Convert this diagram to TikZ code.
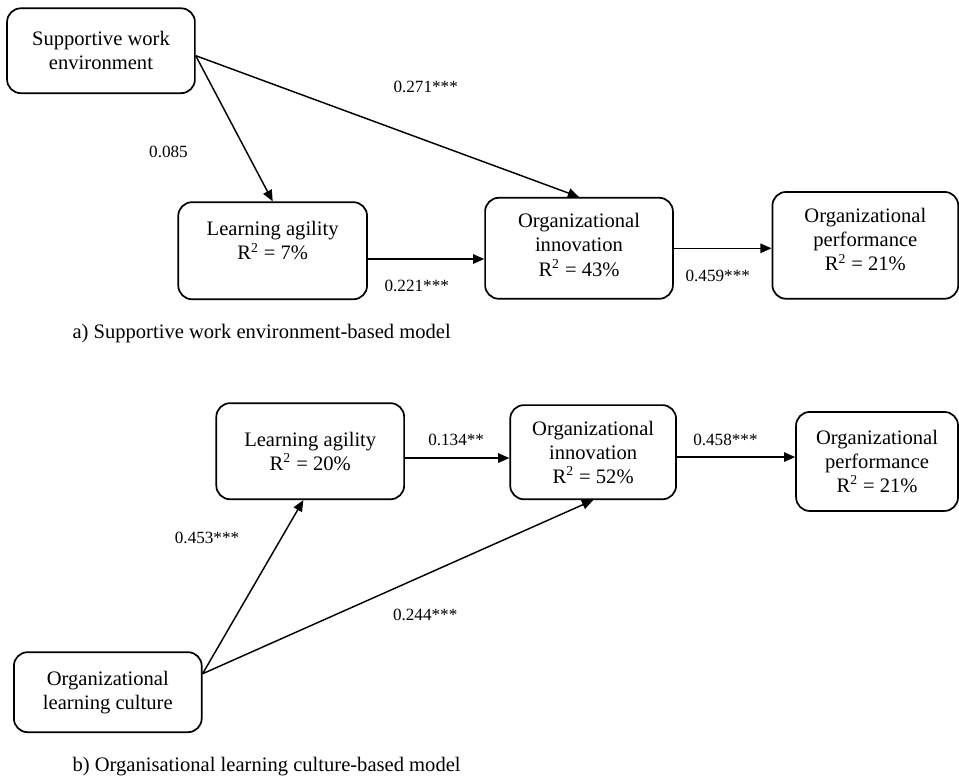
\documentclass[tikz,border=0pt]{standalone}
\usepackage{fontspec}
\setmainfont{Liberation Serif}
\usetikzlibrary{arrows.meta}

\begin{document}
\begin{tikzpicture}[>={Triangle[length=6.5pt,width=5.5pt]},
  var/.style={draw,line width=1pt,rounded corners=8pt,minimum width=3.85cm,align=center,font=\fontsize{12}{14}\selectfont},
  arr/.style={->,line width=0.85pt},
  lab/.style={font=\fontsize{10}{12}\selectfont,inner sep=1pt},
  modelcap/.style={anchor=west,inner sep=0pt,font=\fontsize{12}{14}\selectfont}]
  \useasboundingbox (0,0) rectangle (19.66,-15.99);
  % a) supportive work environment
  \node[var,minimum height=1.74cm] (swe) at (2.07,-1.04) {Supportive work\\environment};
  \node[var,minimum width=3.87cm,minimum height=1.99cm] (la1) at (5.59,-5.14) {Learning agility\\R\textsuperscript{2} = 7\%\rule[-12pt]{0pt}{12pt}};
  \node[var,minimum height=2.07cm] (oi1) at (11.87,-5.09) {Organizational\\innovation\\R\textsuperscript{2} = 43\%\rule[-4pt]{0pt}{4pt}};
  \node[var,minimum width=3.81cm,minimum height=2.19cm] (op1) at (17.74,-5.03) {Organizational\\performance\\R\textsuperscript{2} = 21\%\rule[-7pt]{0pt}{7pt}};
  \draw[arr] (swe.-3) -- node[lab,pos=0.66,xshift=-1.6cm] {0.085} (la1.north);
  \draw[arr] (swe.-3) -- node[lab,pos=0.6,yshift=1.09cm] {0.271***} (oi1.north);
  \draw[arr] ([yshift=-0.17cm]la1.east) -- node[lab,pos=0.42,yshift=-0.55cm] {0.221***} ([yshift=-0.17cm]la1.east -| oi1.west);
  \draw[arr] (oi1.east) -- node[lab,pos=0.45,yshift=-0.57cm] {0.459***} (oi1.east -| op1.west);
  \node[modelcap] (capa) at (1.48,-6.83) {a) Supportive work environment-based model};
  % b) organizational learning culture
  \node[var,minimum height=1.97cm] (la2) at (6.36,-9.25) {Learning agility\\R\textsuperscript{2} = 20\%};
  \node[var,minimum width=3.40cm,minimum height=1.93cm] (oi2) at (12.16,-9.27) {Organizational\\innovation\\R\textsuperscript{2} = 52\%};
  \node[var,minimum width=3.32cm,minimum height=2.03cm] (op2) at (17.98,-9.46) {Organizational\\performance\\R\textsuperscript{2} = 21\%};
  \node[var,minimum height=1.64cm] (olc) at (2.21,-14.19) {Organizational\\learning culture};
  \draw[arr] (olc.11) -- node[lab,pos=0.78,xshift=-1.52cm] {0.453***} (la2.-98);
  \draw[arr] (olc.11) -- node[lab,pos=0.57,yshift=-0.82cm] {0.244***} (oi2.south);
  \draw[arr] ([yshift=-0.14cm]la2.east) -- node[lab,pos=0.49,yshift=0.37cm] {0.134**} ([yshift=-0.14cm]la2.east -| oi2.west);
  \draw[arr] ([yshift=-0.1cm]oi2.east) -- node[lab,pos=0.41,yshift=0.35cm] {0.458***} ([yshift=-0.1cm]oi2.east -| op2.west);
  \node[modelcap] (capb) at (1.48,-15.72) {b) Organisational learning culture-based model};
\end{tikzpicture}
\end{document}
